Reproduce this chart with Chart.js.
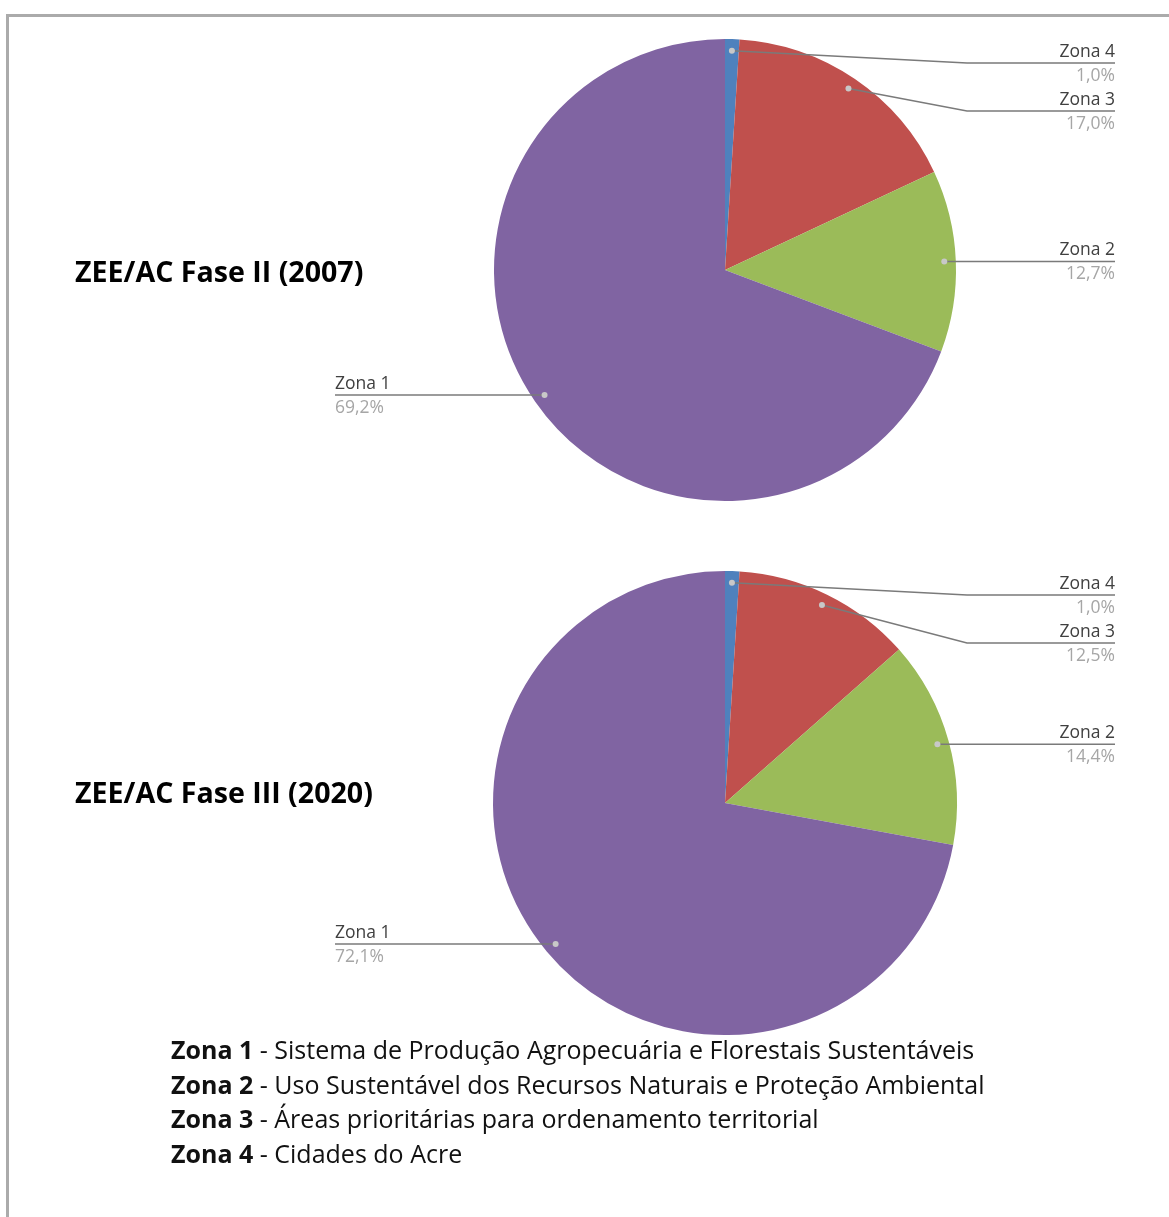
<!DOCTYPE html>
<html lang="pt">
<head>
  <meta charset="UTF-8" />
  <title>ZEE/AC — Zonas</title>
  <script src="https://cdn.jsdelivr.net/npm/chart.js"></script>
  <style>
    html, body { margin: 0; padding: 0; background: #fff; overflow: hidden; }
    body { width: 1169px; height: 1217px; position: relative; font-family: "Open Sans", sans-serif; }
    .frame { position: absolute; left: 6px; top: 14px; width: 1200px; height: 1300px;
             border-top: 3px solid #ababab; border-left: 3px solid #ababab; }
    .box { position: absolute; left: 0; width: 1169px; }
    .title { position: absolute; left: 75px; font-weight: 700; font-size: 28.6px; line-height: 38px; color: #000; white-space: nowrap; }
    .legend { position: absolute; left: 171px; top: 1032px; font-size: 25px; line-height: 34.5px; color: #111; white-space: nowrap; }
    .legend b { font-weight: 700; }
  </style>
</head>
<body>
  <div class="frame"></div>

  <div class="box" style="top:0;height:535px"><canvas id="pie1"></canvas></div>
  <div class="box" style="top:535px;height:540px"><canvas id="pie2"></canvas></div>

  <div class="title" style="top:252px">ZEE/AC Fase II (2007)</div>
  <div class="title" style="top:773px">ZEE/AC Fase III (2020)</div>

  <div class="legend">
    <div><b>Zona 1</b> - Sistema de Produção Agropecuária e Florestais Sustentáveis</div>
    <div><b>Zona 2</b> - Uso Sustentável dos Recursos Naturais e Proteção Ambiental</div>
    <div><b>Zona 3</b> - Áreas prioritárias para ordenamento territorial</div>
    <div><b>Zona 4</b> - Cidades do Acre</div>
  </div>

  <script>
    // data, clockwise from 12 o'clock
    const zonas = ['Zona 4', 'Zona 3', 'Zona 2', 'Zona 1'];
    const fase2 = [1.0, 17.0, 12.7, 69.2];
    const fase3 = [1.0, 12.5, 14.4, 72.1];
    const cores = ['#4f81bd', '#c0504d', '#9bbb59', '#8064a2'];

    // callout labels with leader lines (Excel style)
    const callouts = {
      id: 'callouts',
      afterDraw(chart) {
        const ctx = chart.ctx;
        const meta = chart.getDatasetMeta(0);
        const vals = chart.data.datasets[0].data;
        const items = meta.data.map((arc, i) => {
          const p = arc.getProps(['x', 'y', 'startAngle', 'endAngle', 'outerRadius'], true);
          const mid = (p.startAngle + p.endAngle) / 2;
          return {
            i, cx: p.x, cy: p.y, r: p.outerRadius,
            dx: p.x + Math.cos(mid) * p.outerRadius * 0.95,
            dy: p.y + Math.sin(mid) * p.outerRadius * 0.95,
            right: Math.cos(mid) >= 0
          };
        });

        const place = (list, side) => {
          list.sort((a, b) => a.dy - b.dy);
          let prev = -Infinity;
          list.forEach(it => {
            let y = it.dy;
            if (side > 0) y = Math.max(y, it.cy - it.r + 24, prev + 48);
            it.ly = y;
            prev = y;
            it.lx = it.cx + side * 390;
            it.ex = it.lx - side * 148;
          });
        };
        place(items.filter(it => it.right), 1);
        place(items.filter(it => !it.right), -1);

        ctx.save();
        items.forEach(it => {
          ctx.strokeStyle = '#7a7a7a';
          ctx.lineWidth = 1.5;
          ctx.beginPath();
          ctx.moveTo(it.dx, it.dy);
          ctx.lineTo(it.ex, it.ly);
          ctx.lineTo(it.lx, it.ly);
          ctx.stroke();

          ctx.fillStyle = '#c8c8c8';
          ctx.beginPath();
          ctx.arc(it.dx, it.dy, 3, 0, Math.PI * 2);
          ctx.fill();

          ctx.textAlign = it.right ? 'right' : 'left';
          ctx.font = '17.5px "Open Sans", sans-serif';
          ctx.fillStyle = '#404040';
          ctx.textBaseline = 'alphabetic';
          ctx.fillText(chart.data.labels[it.i], it.lx, it.ly - 6);
          ctx.fillStyle = '#a6a6a6';
          ctx.textBaseline = 'top';
          ctx.fillText(vals[it.i].toFixed(1).replace('.', ',') + '%', it.lx, it.ly + 4);
        });
        ctx.restore();
      }
    };

    function makePie(id, values, padding) {
      new Chart(document.getElementById(id), {
        type: 'pie',
        data: {
          labels: zonas,
          datasets: [{ data: values, backgroundColor: cores, borderWidth: 0 }]
        },
        options: {
          responsive: true,
          maintainAspectRatio: false,
          animation: false,
          layout: { padding },
          plugins: { legend: { display: false }, tooltip: { enabled: false } }
        },
        plugins: [callouts]
      });
    }

    makePie('pie1', fase2, { left: 494, right: 213, top: 39, bottom: 34 });
    makePie('pie2', fase3, { left: 493, right: 212, top: 36, bottom: 40 });
  </script>
</body>
</html>
